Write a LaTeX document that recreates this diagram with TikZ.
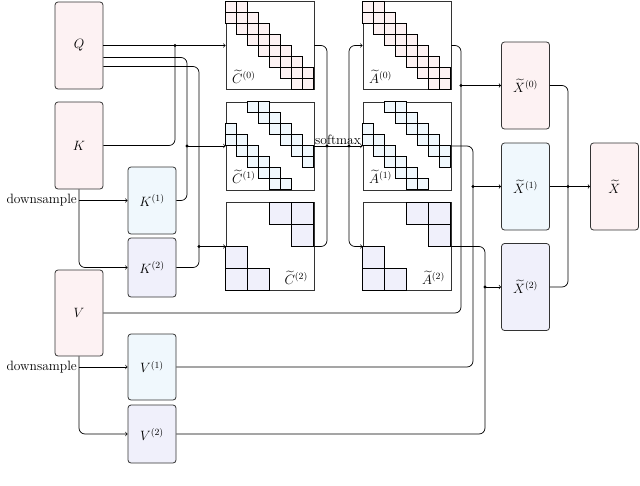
\RequirePackage{fix-cm}
\documentclass[tikz,border=0pt]{standalone}
\usepackage{amsmath}
\usetikzlibrary{calc}

\definecolor{pinkfill}{RGB}{253,242,243}
\definecolor{bluefill}{RGB}{240,248,253}
\definecolor{lavfill}{RGB}{240,240,251}

\tikzset{
  box/.style = {draw=black!80, line width=0.8pt, rounded corners=3pt,
                minimum width=48pt, inner sep=0pt},
  mat/.style = {draw=black!80, line width=0.8pt, minimum width=88pt,
                minimum height=88pt, inner sep=0pt},
  cell/.style = {draw=black, line width=0.8pt},
  dot/.style = {circle, fill=black, inner sep=0pt, minimum size=3.2pt},
  wire/.style = {line width=0.7pt, rounded corners=6pt},
}

% band matrix: corner, fill colour, diagonal offsets
\newcommand{\bandmat}[3]{%
  \foreach \i in {0,...,7}{%
    \foreach \d in {#3}{%
      \pgfmathtruncatemacro\jj{\i+\d}
      \ifnum\jj>-1 \ifnum\jj<8
        \draw[cell,fill=#2] ($(#1)+(\jj*11,\i*11)$) rectangle +(11,11);
      \fi\fi
    }}}
% coarse matrix with 22pt blocks
\newcommand{\blockmat}[2]{%
  \foreach \r/\c in {0/2,0/3,1/3,2/0,3/0,3/1}{%
    \draw[cell,fill=#2] ($(#1)+(\c*22,\r*22)$) rectangle +(22,22);
  }}

\begin{document}
\begin{tikzpicture}[x=1pt, y=-1pt, >=to,
    font=\fontsize{13.5}{16}\selectfont]
  \useasboundingbox (0,0) rectangle (640,485);

  % inputs
  \node[box, fill=pinkfill, minimum height=87pt] (Q) at (79,45.5) {$Q$};
  \node[box, fill=pinkfill, minimum height=87pt] (K) at (79,145.5) {$K$};
  \node[box, fill=pinkfill, minimum height=86pt] (V) at (79,313) {$V$};
  \node[box, fill=bluefill, minimum height=67pt] (K1) at (152,200.5) {$K^{(1)}$};
  \node[box, fill=lavfill, minimum height=59pt] (K2) at (152,267.5) {$K^{(2)}$};
  \node[box, fill=bluefill, minimum height=66pt] (V1) at (152,367) {$V^{(1)}$};
  \node[box, fill=lavfill, minimum height=58pt] (V2) at (152,434) {$V^{(2)}$};

  % score matrices
  \node[mat] (C0) at (270,45.5) {};
  \node[mat] (C1) at (270,146) {};
  \node[mat] (C2) at (270,246.5) {};
  \node[mat] (A0) at (407,45.5) {};
  \node[mat] (A1) at (407,146) {};
  \node[mat] (A2) at (407,246.5) {};
  \bandmat{C0.north west}{pinkfill}{-1,0,1}
  \bandmat{A0.north west}{pinkfill}{-1,0,1}
  \bandmat{C1.north west}{bluefill}{2,3,-2,-3}
  \bandmat{A1.north west}{bluefill}{2,3,-2,-3}
  \blockmat{C2.north west}{lavfill}
  \blockmat{A2.north west}{lavfill}
  \node[anchor=south west] at ($(C0.south west)+(3,-3)$) {$\widetilde{C}^{(0)}$};
  \node[anchor=south west] at ($(C1.south west)+(3,-3)$) {$\widetilde{C}^{(1)}$};
  \node[anchor=south east] at ($(C2.south east)+(-3,-3)$) {$\widetilde{C}^{(2)}$};
  \node[anchor=south west] at ($(A0.south west)+(3,-3)$) {$\widetilde{A}^{(0)}$};
  \node[anchor=south west] at ($(A1.south west)+(3,-3)$) {$\widetilde{A}^{(1)}$};
  \node[anchor=south east] at ($(A2.south east)+(-3,-3)$) {$\widetilde{A}^{(2)}$};

  % outputs
  \node[box, fill=pinkfill, minimum height=87pt] (X0) at (525.5,85.5) {$\widetilde{X}^{(0)}$};
  \node[box, fill=bluefill, minimum height=87pt] (X1) at (525.5,186.5) {$\widetilde{X}^{(1)}$};
  \node[box, fill=lavfill, minimum height=87pt] (X2) at (525.5,287) {$\widetilde{X}^{(2)}$};
  \node[box, fill=pinkfill, minimum height=87pt] (X) at (614.5,186.5) {$\widetilde{X}$};

  % junctions
  \coordinate (jq) at (175,45.5);
  \coordinate (j1) at (187,146);
  \coordinate (j2) at (199,246.5);
  \coordinate (s) at (327,146);
  \coordinate (t) at (349,146);
  \coordinate (a0) at (461,85.5);
  \coordinate (a1) at (473,186.5);
  \coordinate (a2) at (485,287);
  \coordinate (m) at (568,186.5);

  % Q, K into scores
  \draw[wire,->] (Q.east) -- (C0.west);
  \draw[wire] (K.east) -| (jq);
  \draw[wire] ([yshift=-12pt]Q.east) -| (j1);
  \draw[wire] (K1.east) -| (j1);
  \draw[wire,->] (j1) -- (C1.west);
  \draw[wire] ([yshift=-21pt]Q.east) -| (j2);
  \draw[wire] (K2.east) -| (j2);
  \draw[wire,->] (j2) -- (C2.west);

  % downsampling
  \draw[wire,->] (K.south) |- (K2.west);
  \draw[wire,->] (K.south |- K1.west) -- (K1.west);
  \node[anchor=east, inner sep=2pt] at (K.south |- K1.west) {downsample};
  \draw[wire,->] (V.south) |- (V2.west);
  \draw[wire,->] (V.south |- V1.west) -- (V1.west);
  \node[anchor=east, inner sep=2pt] at (V.south |- V1.west) {downsample};

  % softmax
  \draw[wire] (C0.east) -| (s) |- (C2.east);
  \draw[wire,->] (C1.east) -- (A1.west);
  \node[anchor=south, inner sep=1pt] at ($(s)!0.5!(t)$) {softmax};
  \draw[wire,->] (t) |- (A0.west);
  \draw[wire,->] (t) |- (A2.west);

  % scores times values
  \draw[wire] (A0.east) -| (a0);
  \draw[wire] (V.east) -| (a0);
  \draw[wire,->] (a0) -- (X0.west);
  \draw[wire] (A1.east) -| (a1);
  \draw[wire] (V1.east) -| (a1);
  \draw[wire,->] (a1) -- (X1.west);
  \draw[wire] (A2.east) -| (a2);
  \draw[wire] (V2.east) -| (a2);
  \draw[wire,->] (a2) -- (X2.west);

  % merge
  \draw[wire] (X0.east) -| (m);
  \draw[wire] (X2.east) -| (m);
  \draw[wire,->] (X1.east) -- (X.west);

  \foreach \p in {jq,j1,j2,s,t,a0,a1,a2,m} \node[dot] at (\p) {};
\end{tikzpicture}
\end{document}
